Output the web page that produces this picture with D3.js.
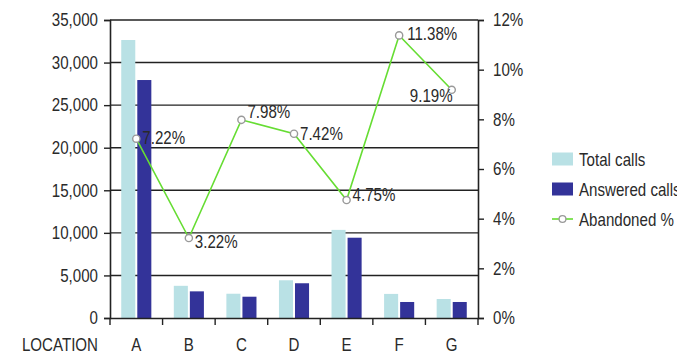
<!DOCTYPE html>
<html><head><meta charset="utf-8">
<script src="https://cdn.jsdelivr.net/npm/d3@7"></script>
<style>
html,body{margin:0;padding:0;background:#fff;}
svg text{font-family:"Liberation Sans",Arial,sans-serif;fill:#2a2a2a;}
</style></head>
<body><svg id="c" width="692" height="354"></svg>
<script>
const categories = ["A","B","C","D","E","F","G"];
const totalCalls = [32650, 3780, 2850, 4430, 10350, 2830, 2230];
const answeredCalls = [27950, 3130, 2500, 4080, 9430, 1880, 1880];
const abandonedPct = [7.22, 3.22, 7.98, 7.42, 4.75, 11.38, 9.19];
const leftTicks = [0,5000,10000,15000,20000,25000,30000,35000];
const rightTicks = [0,2,4,6,8,10,12];
const seriesNames = ["Total calls","Answered calls","Abandoned %"];
const xAxisTitle = "LOCATION";

const m={l:110,r:478,t:20,b:318};
const svg=d3.select("#c");
const fs=18, sx=0.84;

// condensed text helper
function narrow(sel){
  sel.each(function(){
    const t=d3.select(this);
    const xx=+(t.attr("x")||0), yy=+(t.attr("y")||0);
    t.attr("x",0).attr("y",0).attr("transform",`translate(${xx},${yy}) scale(${sx},1)`);
  });
}

const x=d3.scaleBand().domain(categories).range([m.l,m.r]).padding(0);
const xs=d3.scaleBand().domain(["total","answered"]).range([0,x.bandwidth()]).paddingInner(0.125).paddingOuter(0.7);
const y=d3.scaleLinear().domain([0,35000]).range([m.b,m.t]);
const y2=d3.scaleLinear().domain([0,12]).range([m.b,m.t]);

// gridlines
svg.append("g").selectAll("line").data(leftTicks.filter(d=>d>0)).join("line")
  .attr("x1",m.l).attr("x2",m.r).attr("y1",d=>y(d)).attr("y2",d=>y(d))
  .attr("stroke","#222").attr("stroke-width",1.4);

// bars
const colTotal="#b9e1e5", colAns="#333399";
const g=svg.append("g");
g.selectAll("rect.t").data(categories).join("rect").attr("class","t")
  .attr("x",(d)=>x(d)+xs("total")).attr("width",xs.bandwidth())
  .attr("y",(d,i)=>y(totalCalls[i])).attr("height",(d,i)=>y(0)-y(totalCalls[i]))
  .attr("fill",colTotal);
g.selectAll("rect.a").data(categories).join("rect").attr("class","a")
  .attr("x",(d)=>x(d)+xs("answered")).attr("width",xs.bandwidth())
  .attr("y",(d,i)=>y(answeredCalls[i])).attr("height",(d,i)=>y(0)-y(answeredCalls[i]))
  .attr("fill",colAns);

// axes
const fmt=d3.format(",");
const la=svg.append("g").attr("transform",`translate(${m.l},0)`)
  .call(d3.axisLeft(y).tickValues(leftTicks).tickFormat(fmt).tickSize(6).tickPadding(6));
const ra=svg.append("g").attr("transform",`translate(${m.r},0)`)
  .call(d3.axisRight(y2).tickValues(rightTicks).tickFormat(d=>d+"%").tickSize(6).tickPadding(9));
const ba=svg.append("g").attr("transform",`translate(0,${m.b})`)
  .call(d3.axisBottom(x).tickSize(0).tickFormat(""));
svg.append("g").selectAll("line").data(d3.range(categories.length+1)).join("line")
  .attr("x1",i=>m.l+i*x.step()).attr("x2",i=>m.l+i*x.step())
  .attr("y1",m.b).attr("y2",m.b+7).attr("stroke","#222").attr("stroke-width",1.4);
[la,ra,ba].forEach(a=>{
  a.select(".domain").attr("stroke","#222").attr("stroke-width",1.6);
  a.selectAll(".tick line").attr("stroke","#222").attr("stroke-width",1.4);
  a.selectAll("text").attr("font-size",fs).attr("font-family",null).attr("fill","#2a2a2a");
  narrow(a.selectAll("text"));
});
// category labels
narrow(svg.append("g").selectAll("text").data(categories).join("text")
  .attr("x",d=>x(d)+x.bandwidth()/2).attr("y",351).attr("text-anchor","middle")
  .attr("font-size",fs).text(d=>d));
narrow(svg.append("text").attr("x",98).attr("y",351).attr("text-anchor","end").attr("font-size",fs).text(xAxisTitle));

// line
const lineCol="#66dd33";
const cx=d=>x(d)+x.bandwidth()/2;
svg.append("path").datum(categories)
  .attr("d",d3.line().x(cx).y((d,i)=>y2(abandonedPct[i])))
  .attr("fill","none").attr("stroke",lineCol).attr("stroke-width",1.6);
svg.append("g").selectAll("circle").data(categories).join("circle")
  .attr("cx",cx).attr("cy",(d,i)=>y2(abandonedPct[i])).attr("r",3.6)
  .attr("fill","#fff").attr("stroke","#999").attr("stroke-width",1.4);
// label placement (layout only): [dx, dy, anchor]
const labelLayout=[[6,5,"start"],[6,10,"start"],[6,-2,"start"],[6,6,"start"],[6,1,"start"],[8,5,"start"],[1,12,"end"]];
narrow(svg.append("g").selectAll("text").data(categories).join("text")
  .attr("x",(d,i)=>cx(d)+labelLayout[i][0])
  .attr("y",(d,i)=>y2(abandonedPct[i])+labelLayout[i][1])
  .attr("text-anchor",(d,i)=>labelLayout[i][2])
  .attr("font-size",fs).text((d,i)=>abandonedPct[i].toFixed(2)+"%"));

// legend
svg.append("defs").append("clipPath").attr("id","lc").append("rect").attr("x",540).attr("y",130).attr("width",137).attr("height",110);
const lg=svg.append("g").attr("clip-path","url(#lc)");
const rows=[159,189,219];
lg.append("rect").attr("x",552).attr("y",rows[0]-6.5).attr("width",21).attr("height",13).attr("fill",colTotal);
lg.append("rect").attr("x",552).attr("y",rows[1]-6.5).attr("width",21).attr("height",13).attr("fill",colAns);
lg.append("line").attr("x1",552).attr("x2",573).attr("y1",rows[2]).attr("y2",rows[2]).attr("stroke",lineCol).attr("stroke-width",1.6);
lg.append("circle").attr("cx",562.5).attr("cy",rows[2]).attr("r",3.4).attr("fill","#fff").attr("stroke","#999").attr("stroke-width",1.3);
narrow(lg.selectAll("text").data(seriesNames).join("text")
  .attr("x",579).attr("y",(d,i)=>rows[i]+6.5).attr("font-size",fs).text(d=>d));
</script></body></html>
